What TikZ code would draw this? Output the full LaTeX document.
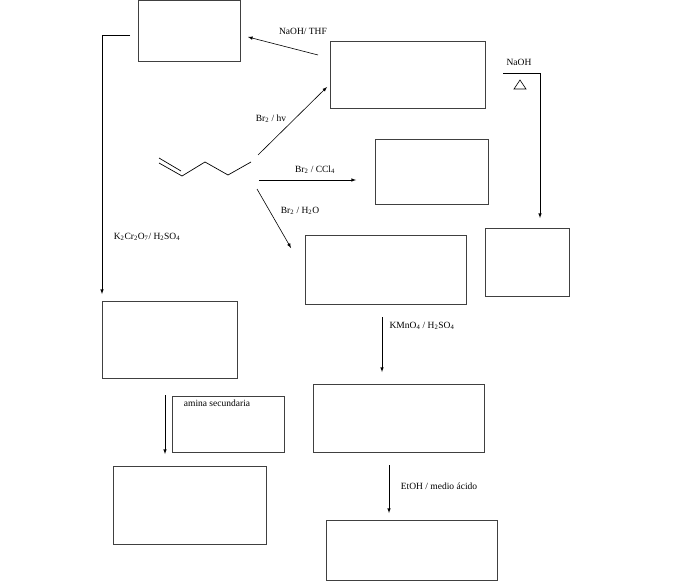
\documentclass[tikz,border=0pt]{standalone}
\usepackage{fontspec}
\setmainfont{Liberation Serif}
\newcommand{\ssb}[1]{\textsubscript{#1}}
\begin{document}
\begin{tikzpicture}[x=1pt,y=-1pt,
  box/.style={draw=black!75,line width=0.8pt},
  arr/.style={-latex,line width=0.6pt},
  lbl/.style={font=\fontsize{9.5}{10}\selectfont,inner sep=0pt}]
\useasboundingbox (0,0) rectangle (700,583);
\draw[box] (138,0) rectangle (240,61);
\draw[box] (330,41) rectangle (485,108);
\draw[box] (375,139) rectangle (488,204);
\draw[box] (305,235) rectangle (466,304);
\draw[box] (485,228) rectangle (569,296);
\draw[box] (102,301) rectangle (237,378);
\draw[box] (172,396) rectangle (284,452);
\draw[box] (113,466) rectangle (266,544);
\draw[box] (313,384) rectangle (484,452);
\draw[box] (326,520) rectangle (497,580);
% molecule
\draw[line width=0.7pt] (159,163) -- (182,176) -- (205,162) -- (228,175) -- (251,162);
\draw[line width=0.7pt] (159,158) -- (181,171);
% arrows
\coordinate (b1) at (318,55); \coordinate (b2) at (248,37);
\draw[arr] (b1) -- (b2);
\node[lbl] (l1) at (303,31) {NaOH/ THF};
\coordinate (h1) at (258,155); \coordinate (h2) at (327,87);
\draw[arr] (h1) -- (h2);
\node[lbl] (l2) at (271,119) {Br\ssb{2} / hv};
\coordinate (c1) at (259,180); \coordinate (c2) at (356,180);
\draw[arr] (c1) -- (c2);
\node[lbl] (l3) at (315,170) {Br\ssb{2} / CCl\ssb{4}};
\coordinate (w1) at (257,189); \coordinate (w2) at (291,248);
\draw[arr] (w1) -- (w2);
\node[lbl] (l4) at (300,211) {Br\ssb{2} / H\ssb{2}O};
\coordinate (n1) at (503,73); \coordinate (n2) at (540,73); \coordinate (n3) at (540,218);
\draw[arr] (n1) -- (n2) -- (n3);
\node[lbl] (l5) at (519,62) {NaOH};
\draw[line width=0.6pt] (514,89) -- (526,89) -- (520,80) -- cycle;
\coordinate (k1) at (130,35); \coordinate (k2) at (102,35); \coordinate (k3) at (102,294);
\draw[arr] (k1) -- (k2) -- (k3);
\node[lbl] (l6) at (147,237) {K\ssb{2}Cr\ssb{2}O\ssb{7}/ H\ssb{2}SO\ssb{4}};
\coordinate (m1) at (382,317); \coordinate (m2) at (382,372);
\draw[arr] (m1) -- (m2);
\node[lbl] (l7) at (422,326) {KMnO\ssb{4} / H\ssb{2}SO\ssb{4}};
\coordinate (s1) at (165,395); \coordinate (s2) at (165,454);
\draw[arr] (s1) -- (s2);
\node[lbl] (l8) at (217,403) {amina secundaria};
\coordinate (e1) at (389,465); \coordinate (e2) at (389,513);
\draw[arr] (e1) -- (e2);
\node[lbl] (l9) at (439,486) {EtOH / medio ácido};
\end{tikzpicture}
\end{document}
